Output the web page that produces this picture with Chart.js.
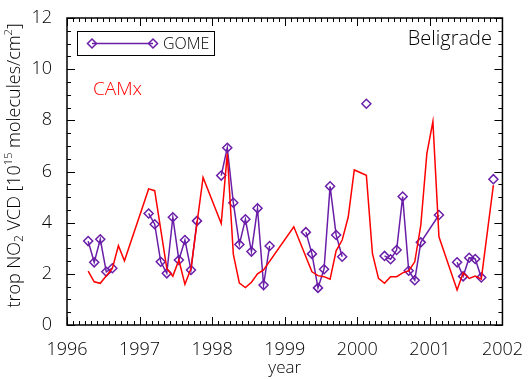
<!DOCTYPE html>
<html>
<head>
<meta charset="utf-8">
<script src="https://cdn.jsdelivr.net/npm/chart.js@4.4.1/dist/chart.umd.min.js"></script>
<style>
    html, body { margin: 0; padding: 0; background: #fff; }
    #wrap { width: 529px; height: 379px; }
</style>
</head>
<body>
<div id="wrap"><canvas id="myChart" width="529" height="379"></canvas></div>
<script>
// GOME monthly means, a null value breaks the line
const gomeMonths = [
    '1996-04', '1996-05', '1996-06', '1996-07', '1996-08', '1996-09',
    '1997-02', '1997-03', '1997-04', '1997-05', '1997-06', '1997-07', '1997-08', '1997-09', '1997-10', '1997-11',
    '1998-02', '1998-03', '1998-04', '1998-05', '1998-06', '1998-07', '1998-08', '1998-09', '1998-10', '1998-11',
    '1999-04', '1999-05', '1999-06', '1999-07', '1999-08', '1999-09', '1999-10', '1999-11',
    '2000-02', '2000-03',
    '2000-05', '2000-06', '2000-07', '2000-08', '2000-09', '2000-10', '2000-11', '2001-02', '2001-03',
    '2001-05', '2001-06', '2001-07', '2001-08', '2001-09', '2001-10',
    '2001-11',
];
const gomeValues = [
    3.28, 2.45, 3.35, 2.08, 2.22, null,
    4.36, 3.94, 2.47, 2.02, 4.21, 2.54, 3.32, 2.15, 4.07, null,
    5.84, 6.93, 4.78, 3.15, 4.13, 2.87, 4.56, 1.56, 3.09, null,
    3.63, 2.78, 1.45, 2.18, 5.42, 3.52, 2.67, null,
    8.65, null,
    2.70, 2.57, 2.93, 5.02, 2.12, 1.75, 3.23, 4.30, null,
    2.45, 1.90, 2.63, 2.58, 1.86, null,
    5.70,
];

// CAMx model, only the months where the line bends
const camxMonths = [
    '1996-04', '1996-05', '1996-06', '1996-08', '1996-09', '1996-10',
    '1997-02', '1997-03', '1997-05', '1997-06', '1997-07', '1997-08', '1997-09', '1997-11',
    '1998-02', '1998-03', '1998-04', '1998-05', '1998-06', '1998-07', '1998-08', '1998-09',
    '1999-02', '1999-05', '1999-06', '1999-07', '1999-08', '1999-09', '1999-10', '1999-11', '1999-12',
    '2000-02', '2000-03', '2000-04', '2000-05', '2000-06', '2000-07', '2000-08', '2000-09', '2000-10', '2000-11', '2000-12',
    '2001-01', '2001-02', '2001-05', '2001-06', '2001-07', '2001-08', '2001-09', '2001-11',
];
const camxValues = [
    2.11, 1.69, 1.63, 2.21, 3.10, 2.51,
    5.32, 5.25, 2.21, 1.91, 2.54, 1.59, 2.21, 5.77,
    3.97, 6.70, 2.77, 1.64, 1.46, 1.67, 2.00, 2.15,
    3.84, 2.08, 1.93, 1.89, 1.79, 2.90, 3.32, 4.22, 6.06,
    5.85, 2.80, 1.82, 1.63, 1.89, 1.89, 2.04, 2.12, 2.47, 3.90, 6.70,
    7.95, 3.45, 1.37, 2.04, 1.82, 1.91, 1.79, 5.47,
];

const yearTicks = [1996, 1997, 1998, 1999, 2000, 2001, 2002];
const no2Ticks = [0, 2, 4, 6, 8, 10, 12];

const gomeColor = '#6a1ea8';
const camxColor = '#ff0000';
const fontName = "'Open Sans', 'DejaVu Sans', sans-serif";
const fontWeight = '300';

// 'YYYY-MM' -> decimal year at the middle of the month
function monthToYear(m) {
    const [yr, mo] = m.split('-').map(Number);
    return yr + (mo - 0.5) / 12;
}

function font(size) {
    return fontWeight + ' ' + size + 'px ' + fontName;
}

const gomeData = gomeMonths.map((m, i) => ({ x: monthToYear(m), y: gomeValues[i] }));
const camxData = camxMonths.map((m, i) => ({ x: monthToYear(m), y: camxValues[i] }));

function drawDiamond(ctx, cx, cy, r) {
    ctx.beginPath();
    ctx.moveTo(cx, cy - r);
    ctx.lineTo(cx + r, cy);
    ctx.lineTo(cx, cy + r);
    ctx.lineTo(cx - r, cy);
    ctx.closePath();
    ctx.stroke();
}

// frame with inward ticks on all four sides, titles, legend box and labels
const framePlugin = {
    id: 'frame',
    afterDraw(chart) {
        const { ctx, chartArea: a } = chart;
        const x = chart.scales.x;
        const y = chart.scales.y;
        ctx.save();

        ctx.strokeStyle = '#000';
        ctx.lineWidth = 1;
        ctx.beginPath();
        for (let i = 0; i <= 72; i++) {
            const px = Math.round(x.getPixelForValue(1996 + i / 12)) + 0.5;
            const len = i % 12 === 0 ? 8 : 4;
            ctx.moveTo(px, a.bottom);
            ctx.lineTo(px, a.bottom - len);
            ctx.moveTo(px, a.top);
            ctx.lineTo(px, a.top + len);
        }
        for (let i = 0; i <= 24; i++) {
            const py = Math.round(y.getPixelForValue(i / 2)) + 0.5;
            const len = i % 4 === 0 ? 8 : 4;
            ctx.moveTo(a.left, py);
            ctx.lineTo(a.left + len, py);
            ctx.moveTo(a.right, py);
            ctx.lineTo(a.right - len, py);
        }
        ctx.stroke();
        ctx.lineWidth = 1.5;
        ctx.strokeRect(a.left, a.top, a.right - a.left, a.bottom - a.top);

        // legend
        ctx.lineWidth = 1;
        ctx.strokeRect(77.5, 31.5, 137, 24);
        ctx.strokeStyle = gomeColor;
        ctx.lineWidth = 1.5;
        ctx.beginPath();
        ctx.moveTo(92, 43.5);
        ctx.lineTo(153, 43.5);
        ctx.stroke();
        drawDiamond(ctx, 92, 43.5, 4.5);
        drawDiamond(ctx, 153, 43.5, 4.5);
        ctx.fillStyle = '#000';
        ctx.font = font(16);
        ctx.textAlign = 'left';
        ctx.textBaseline = 'middle';
        ctx.fillText('GOME', 163, 44);

        ctx.font = font(20);
        ctx.textAlign = 'right';
        ctx.fillText('Beligrade', 492, 39);

        ctx.fillStyle = camxColor;
        ctx.font = font(19);
        ctx.textAlign = 'left';
        ctx.fillText('CAMx', 93, 90);

        // x title
        ctx.fillStyle = '#000';
        ctx.font = font(17);
        ctx.textAlign = 'center';
        ctx.fillText('year', (a.left + a.right) / 2, 368);

        // y title with sub- and superscripts
        const parts = [
            ['trop NO', 18, 0],
            ['2', 12, 5],
            [' VCD [10', 18, 0],
            ['15', 11, -6],
            [' molecules/cm', 18, 0],
            ['2', 11, -6],
            [']', 18, 0],
        ];
        let total = 0;
        parts.forEach(([t, s]) => {
            ctx.font = font(s);
            total += ctx.measureText(t).width;
        });
        ctx.translate(15, (a.top + a.bottom) / 2 - 6);
        ctx.rotate(-Math.PI / 2);
        ctx.textAlign = 'left';
        let pos = -total / 2;
        parts.forEach(([t, s, dy]) => {
            ctx.font = font(s);
            ctx.fillText(t, pos, dy);
            pos += ctx.measureText(t).width;
        });
        ctx.restore();
    },
};

new Chart(document.getElementById('myChart'), {
    type: 'line',
    data: {
        datasets: [
            {
                label: 'CAMx',
                data: camxData,
                borderColor: camxColor,
                borderWidth: 1.5,
                pointRadius: 0,
                tension: 0,
            },
            {
                label: 'GOME',
                data: gomeData,
                borderColor: gomeColor,
                borderWidth: 1.5,
                pointStyle: 'rectRot',
                pointRadius: 4.5,
                pointBorderColor: gomeColor,
                pointBackgroundColor: 'rgba(0,0,0,0)',
                pointBorderWidth: 1.5,
                spanGaps: false,
                tension: 0,
            },
        ],
    },
    options: {
        responsive: false,
        animation: false,
        devicePixelRatio: 1,
        layout: { padding: { top: 18, right: 23, left: 0, bottom: 0 } },
        plugins: {
            legend: { display: false },
            tooltip: { enabled: false },
        },
        scales: {
            x: {
                type: 'linear',
                min: 1996,
                max: 2002,
                afterBuildTicks: (scale) => {
                    scale.ticks = yearTicks.map((v) => ({ value: v }));
                },
                afterFit: (scale) => {
                    scale.height = 54;
                },
                grid: { display: false },
                border: { display: false },
                ticks: {
                    color: '#000',
                    font: { family: fontName, size: 18, weight: fontWeight },
                    padding: 6,
                    maxRotation: 0,
                    callback: (v) => String(v),
                },
            },
            y: {
                min: 0,
                max: 12,
                afterBuildTicks: (scale) => {
                    scale.ticks = no2Ticks.map((v) => ({ value: v }));
                },
                afterFit: (scale) => {
                    scale.width = 67;
                },
                grid: { display: false },
                border: { display: false },
                ticks: {
                    color: '#000',
                    font: { family: fontName, size: 18, weight: fontWeight },
                    padding: 7,
                },
            },
        },
    },
    plugins: [framePlugin],
});
</script>
</body>
</html>
